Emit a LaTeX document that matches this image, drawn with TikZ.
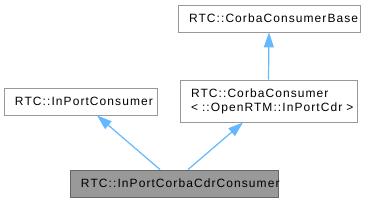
\documentclass[tikz,border=0pt]{standalone}
\usepackage{fontspec}
\setmainfont{Liberation Sans}
\newfontfamily\etiqueta[LetterSpace=9]{Liberation Sans}
\usetikzlibrary{positioning}
\usetikzlibrary{arrows.meta}
\usetikzlibrary{calc}
\hyphenpenalty=10000
\definecolor{figBorde}{RGB}{153,153,153}
\definecolor{figBordeOsc}{RGB}{102,102,102}
\definecolor{figGris}{RGB}{153,153,153}
\definecolor{figFlecha}{RGB}{99,184,255}
\tikzset{
  clase/.style={
    rectangle, draw=figBorde, line width=0.9pt, fill=white,
    align=left, font=\etiqueta\fontsize{12}{15}\selectfont,
    inner xsep=11pt, inner ysep=0pt, minimum height=27pt
  },
  clasep/.style={
    clase, draw=figBordeOsc, fill=figGris
  },
  herencia/.style={-{Triangle[length=15pt, width=10pt]}, line width=1.2pt, draw=figFlecha, fill=figFlecha}
}
\begin{document}
\begin{tikzpicture}[x=1pt, y=1pt]
  \useasboundingbox (0,0) rectangle (365,203);
  \node[clase, text width=160pt] (base) at (269,184.5) {RTC::CorbaConsumerBase};
  \node[clase, minimum height=42pt, text width=155pt] (corba) at (268.5,102) {RTC::CorbaConsumer\\[-1pt]\mbox{< ::OpenRTM::InPortCdr >}};
  \node[clase, text width=131pt] (inport) at (80.5,101.5) {RTC::InPortConsumer};
  \node[clasep, text width=186pt] (cdr) at (174,19.5) {RTC::InPortCorbaCdrConsumer};
  \draw[herencia] (corba.north) -- (base.south);
  \draw[herencia] ($(cdr.north)+(-14,0)$) -- ($(inport.south)+(16.5,0)$);
  \draw[herencia] ($(cdr.north)+(14,0)$) -- ($(corba.south)+(-25.5,0)$);
\end{tikzpicture}
\end{document}
